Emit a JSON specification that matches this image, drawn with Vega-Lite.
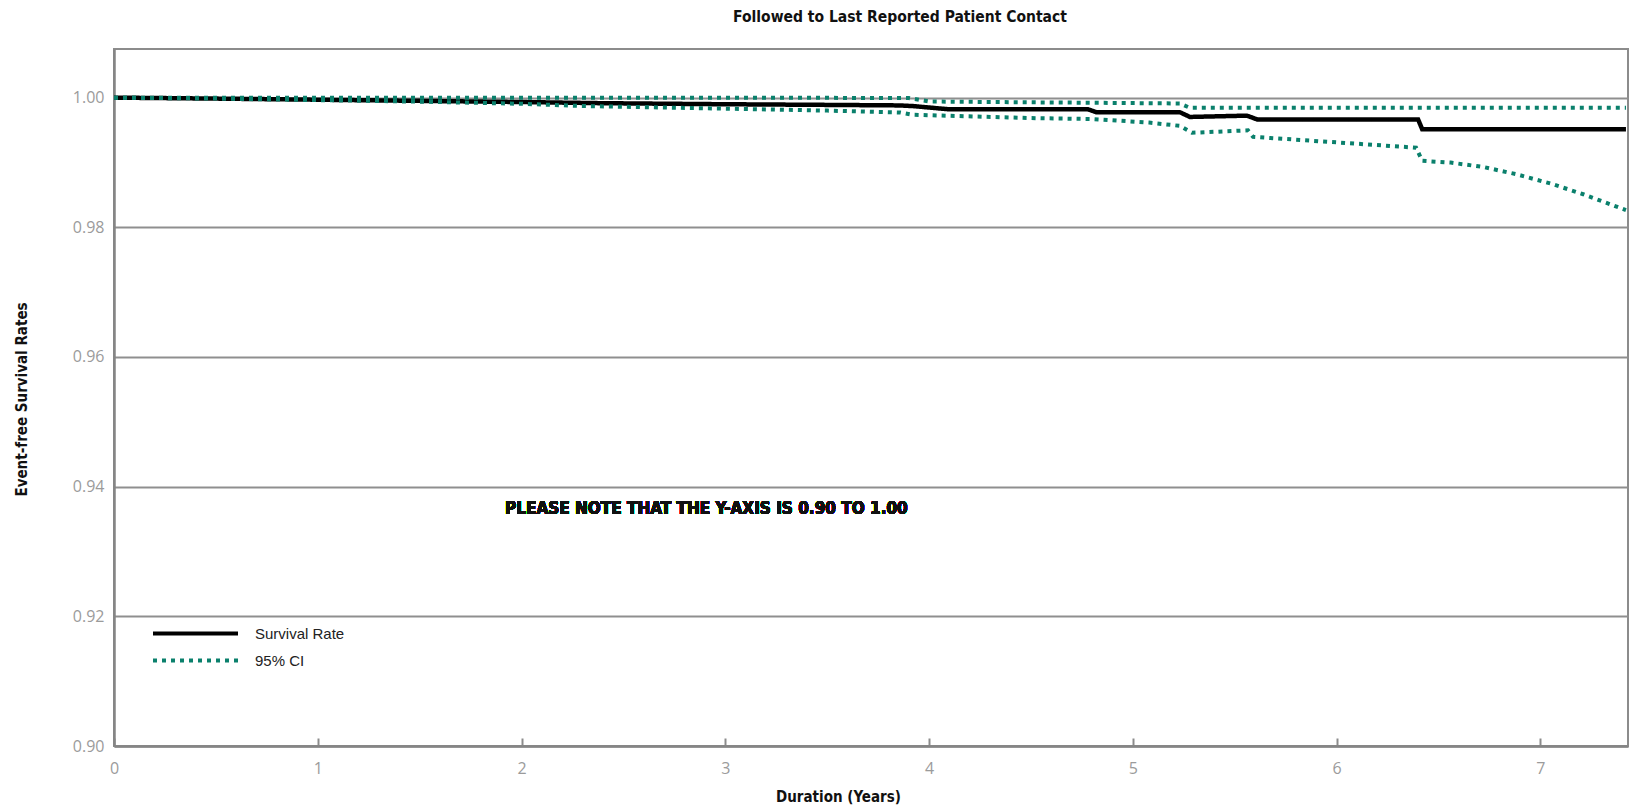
{
  "$schema": "https://vega.github.io/schema/vega-lite/v6.json",
  "autosize": "none",
  "width": 1514,
  "height": 697,
  "padding": {"left": 114, "top": 49, "right": 5, "bottom": 63},
  "background": "white",
  "title": {
    "text": "Followed to Last Reported Patient Contact",
    "font": "'DejaVu Sans Condensed', Roboto, sans-serif",
    "fontSize": 15.5,
    "fontWeight": "bold",
    "color": "#111111",
    "anchor": "middle",
    "baseline": "middle",
    "offset": 17,
    "dx": 29
  },
  "config": {
    "view": {"stroke": "#8c8c8c", "strokeWidth": 2},
    "axis": {
      "domainColor": "#858585",
      "domainWidth": 2.5,
      "gridColor": "#8f8f8f",
      "gridWidth": 1.8,
      "labelFont": "Open Sans",
      "labelFontSize": 16,
      "labelColor": "#9b9b9b",
      "titleFont": "'DejaVu Sans Condensed', Roboto, sans-serif",
      "titleFontSize": 15,
      "titleFontWeight": "bold",
      "titleColor": "#111111"
    }
  },
  "data": {
    "values": [
      {"t": 0, "v": 1.0, "series": "Survival Rate", "line": "S"},
      {"t": 0.5, "v": 0.99985, "series": "Survival Rate", "line": "S"},
      {"t": 1.0, "v": 0.99968, "series": "Survival Rate", "line": "S"},
      {"t": 1.5, "v": 0.9995, "series": "Survival Rate", "line": "S"},
      {"t": 2.0, "v": 0.99932, "series": "Survival Rate", "line": "S"},
      {"t": 2.4, "v": 0.99914, "series": "Survival Rate", "line": "S"},
      {"t": 3.0, "v": 0.99898, "series": "Survival Rate", "line": "S"},
      {"t": 3.5, "v": 0.99888, "series": "Survival Rate", "line": "S"},
      {"t": 3.85, "v": 0.9988, "series": "Survival Rate", "line": "S"},
      {"t": 3.92, "v": 0.9987, "series": "Survival Rate", "line": "S"},
      {"t": 4.09, "v": 0.99822, "series": "Survival Rate", "line": "S"},
      {"t": 4.78, "v": 0.9982, "series": "Survival Rate", "line": "S"},
      {"t": 4.82, "v": 0.99776, "series": "Survival Rate", "line": "S"},
      {"t": 5.23, "v": 0.99776, "series": "Survival Rate", "line": "S"},
      {"t": 5.28, "v": 0.99702, "series": "Survival Rate", "line": "S"},
      {"t": 5.56, "v": 0.99722, "series": "Survival Rate", "line": "S"},
      {"t": 5.61, "v": 0.99664, "series": "Survival Rate", "line": "S"},
      {"t": 6.4, "v": 0.99664, "series": "Survival Rate", "line": "S"},
      {"t": 6.42, "v": 0.99512, "series": "Survival Rate", "line": "S"},
      {"t": 7.42, "v": 0.99512, "series": "Survival Rate", "line": "S"},

      {"t": 0, "v": 1.0, "series": "95% CI", "line": "U"},
      {"t": 1.0, "v": 1.0, "series": "95% CI", "line": "U"},
      {"t": 2.0, "v": 1.0, "series": "95% CI", "line": "U"},
      {"t": 3.0, "v": 0.99998, "series": "95% CI", "line": "U"},
      {"t": 3.9, "v": 0.99995, "series": "95% CI", "line": "U"},
      {"t": 4.0, "v": 0.9994, "series": "95% CI", "line": "U"},
      {"t": 5.23, "v": 0.9991, "series": "95% CI", "line": "U"},
      {"t": 5.28, "v": 0.99843, "series": "95% CI", "line": "U"},
      {"t": 7.42, "v": 0.99843, "series": "95% CI", "line": "U"},

      {"t": 0, "v": 1.0, "series": "95% CI", "line": "L"},
      {"t": 0.5, "v": 0.99985, "series": "95% CI", "line": "L"},
      {"t": 1.0, "v": 0.99962, "series": "95% CI", "line": "L"},
      {"t": 1.5, "v": 0.99938, "series": "95% CI", "line": "L"},
      {"t": 2.0, "v": 0.99905, "series": "95% CI", "line": "L"},
      {"t": 2.3, "v": 0.9987, "series": "95% CI", "line": "L"},
      {"t": 3.0, "v": 0.9983, "series": "95% CI", "line": "L"},
      {"t": 3.5, "v": 0.998, "series": "95% CI", "line": "L"},
      {"t": 3.86, "v": 0.9977, "series": "95% CI", "line": "L"},
      {"t": 3.92, "v": 0.99735, "series": "95% CI", "line": "L"},
      {"t": 4.5, "v": 0.99685, "series": "95% CI", "line": "L"},
      {"t": 4.8, "v": 0.9967, "series": "95% CI", "line": "L"},
      {"t": 5.08, "v": 0.99615, "series": "95% CI", "line": "L"},
      {"t": 5.23, "v": 0.99565, "series": "95% CI", "line": "L"},
      {"t": 5.29, "v": 0.99458, "series": "95% CI", "line": "L"},
      {"t": 5.565, "v": 0.99495, "series": "95% CI", "line": "L"},
      {"t": 5.59, "v": 0.99395, "series": "95% CI", "line": "L"},
      {"t": 6.0, "v": 0.9931, "series": "95% CI", "line": "L"},
      {"t": 6.39, "v": 0.99228, "series": "95% CI", "line": "L"},
      {"t": 6.42, "v": 0.99025, "series": "95% CI", "line": "L"},
      {"t": 6.56, "v": 0.98998, "series": "95% CI", "line": "L"},
      {"t": 6.72, "v": 0.9893, "series": "95% CI", "line": "L"},
      {"t": 6.88, "v": 0.9882, "series": "95% CI", "line": "L"},
      {"t": 7.05, "v": 0.98675, "series": "95% CI", "line": "L"},
      {"t": 7.21, "v": 0.9851, "series": "95% CI", "line": "L"},
      {"t": 7.42, "v": 0.98265, "series": "95% CI", "line": "L"}
    ]
  },
  "encoding": {
    "x": {
      "field": "t",
      "type": "quantitative",
      "scale": {"domain": [0, 7.43], "nice": false, "zero": false},
      "axis": {
        "values": [0, 1, 2, 3, 4, 5, 6, 7],
        "format": "d",
        "grid": false,
        "tickSize": -8,
        "tickColor": "#8c8c8c",
        "tickWidth": 2,
        "labelPadding": 22,
        "labelBaseline": "top",
        "labelFlush": false,
        "title": "Duration (Years)",
        "titleX": 724,
        "titleY": 50,
        "titleBaseline": "middle",
        "titleAlign": "center"
      }
    },
    "y": {
      "field": "v",
      "type": "quantitative",
      "scale": {"domain": [0.9, 1.0075], "nice": false, "zero": false},
      "axis": {
        "values": [0.9, 0.92, 0.94, 0.96, 0.98, 1.0],
        "format": ".2f",
        "grid": true,
        "ticks": false,
        "labelPadding": 10,
        "title": "Event-free Survival Rates",
        "titleAngle": -90,
        "titleX": -93,
        "titleY": 350,
        "titleBaseline": "middle",
        "titleAlign": "center"
      }
    },
    "color": {
      "field": "series",
      "type": "nominal",
      "scale": {"domain": ["Survival Rate", "95% CI"], "range": ["#000000", "#0a806c"]},
      "legend": {
        "title": null,
        "orient": "none",
        "legendX": 37,
        "legendY": 571,
        "symbolType": "stroke",
        "symbolSize": 7225,
        "symbolStrokeWidth": 4,
        "clipHeight": 27,
        "rowPadding": 0,
        "padding": 0,
        "labelFont": "Liberation Sans",
        "labelFontSize": 15,
        "labelColor": "#222222",
        "labelOffset": 15
      }
    },
    "strokeDash": {
      "field": "series",
      "type": "nominal",
      "scale": {"domain": ["Survival Rate", "95% CI"], "range": [[1, 0], [4, 5]]},
      "legend": {
        "title": null,
        "orient": "none",
        "legendX": 37,
        "legendY": 571,
        "symbolType": "stroke",
        "symbolSize": 7225,
        "symbolStrokeWidth": 4,
        "clipHeight": 27,
        "rowPadding": 0,
        "padding": 0,
        "labelFont": "Liberation Sans",
        "labelFontSize": 15,
        "labelColor": "#222222",
        "labelOffset": 15
      }
    },
    "detail": {"field": "line", "type": "nominal"}
  },
  "layer": [
    {
      "transform": [{"filter": "datum.line === 'S'"}],
      "mark": {"type": "line", "strokeWidth": 4.5, "strokeCap": "butt"}
    },
    {
      "transform": [{"filter": "datum.line !== 'S'"}],
      "mark": {"type": "line", "strokeWidth": 4, "strokeCap": "butt"}
    },
    {
      "mark": {
        "type": "text",
        "font": "'DejaVu Sans Condensed', Roboto, sans-serif",
        "fontSize": 17,
        "fontWeight": "bold",
        "color": "#111111",
        "align": "left",
        "baseline": "middle"
      },
      "encoding": {
        "x": {"datum": 1.919},
        "y": {"datum": 0.9366},
        "text": {"value": "PLEASE NOTE THAT THE Y-AXIS IS 0.90 TO 1.00"},
        "color": null,
        "strokeDash": null,
        "detail": null
      }
    }
  ]
}
